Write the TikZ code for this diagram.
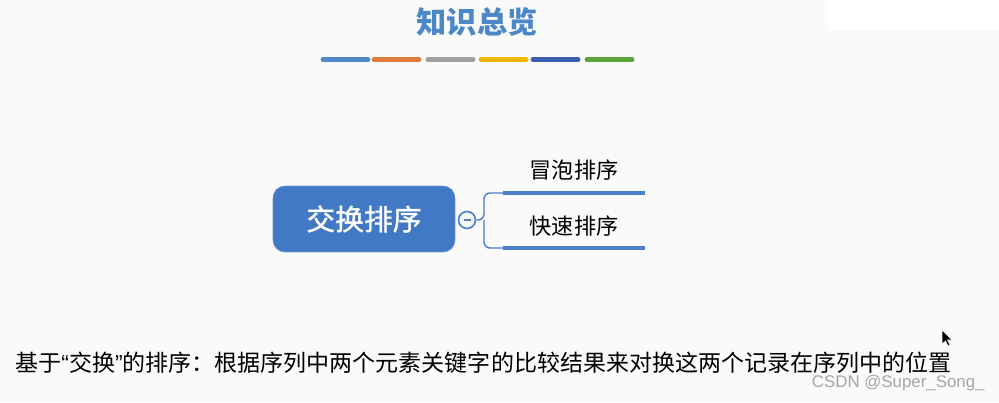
\documentclass[tikz,border=0pt]{standalone}
\usepackage{fontspec}
\setmainfont{Noto Sans CJK SC}
\newfontfamily\latinsans{Liberation Sans}
\newfontfamily\cjksemi[UprightFeatures={FakeBold=1.2}]{Noto Sans CJK SC}
\definecolor{titleblue}{HTML}{4A88C8}
\definecolor{boxblue}{HTML}{4279C4}
\definecolor{lineblue}{HTML}{4A7EC8}
\definecolor{barblue}{HTML}{4F8BC9}
\definecolor{barorange}{HTML}{E07B39}
\definecolor{bargray}{HTML}{A0A0A0}
\definecolor{baryellow}{HTML}{F5B800}
\definecolor{bardark}{HTML}{3A5DAE}
\definecolor{bargreen}{HTML}{5BA33B}
\definecolor{pagebg}{HTML}{FAFAFA}
\newcommand{\openq}{{\latinsans “}}
\newcommand{\closeq}{{\latinsans ”}}
\tikzset{
  mainbox/.style={fill=boxblue,draw=boxblue!80!white,rounded corners=0.24cm,minimum width=3.64cm,minimum height=1.32cm,text=white,font=\cjksemi\fontsize{16.4}{18}\selectfont},
  leaf/.style={font=\fontsize{12.6}{14}\selectfont,text=black},
  link/.style={draw=lineblue,line width=0.8pt,rounded corners=0.12cm},
  branch/.style={draw=lineblue,line width=2.8pt},
}
\begin{document}
\begin{tikzpicture}[x=0.02cm,y=-0.02cm]
    \useasboundingbox (0,0) rectangle (999,402);
    \fill[pagebg] (0,0) rectangle (999,402);
    \fill[white,rounded corners=0.06cm] (828,-5) rectangle (1004,30);
    % title and colour bars
    \node[font=\fontsize{17.2}{20}\selectfont\bfseries,text=titleblue] (title) at (477,22) {知识总览};
    \foreach \c/\xa in {barblue/322,barorange/373,bargray/427,baryellow/480,bardark/532,bargreen/586}{
            \draw[\c,line width=2.8pt,line cap=round] (\xa+1,59.5) -- (\xa+46,59.5);
        }
    % mind map
    \node[mainbox] (exch) at (364,219) {交换排序};
    \node[circle,draw=lineblue,fill=gray!8,line width=0.9pt,minimum size=0.34cm,inner sep=0pt] (fold) at (467,220) {};
    \draw[lineblue!60!gray,line width=1pt] ([xshift=-0.07cm]fold.center) -- ([xshift=0.07cm]fold.center);
    \coordinate (fork) at (484,220);
    \coordinate (b1) at (503,193);
    \coordinate (b1e) at (645,193);
    \coordinate (b2) at (503,248);
    \coordinate (b2e) at (645,248);
    \draw[link] (fold.east) -- (fork) |- (b1);
    \draw[link] (fork) |- (b2);
    \draw[branch] (b1) -- (b1e);
    \draw[branch] (b2) -- (b2e);
    \node[leaf] (bubble) at (574,170) {冒泡排序};
    \node[leaf] (quick) at (574,226) {快速排序};
    % note
    \node[font=\fontsize{13.1}{15}\selectfont,anchor=west,inner sep=0pt] (note) at (15,363) {基于\openq 交换\closeq 的排序：根据序列中两个元素关键字的比较结果来对换这两个记录在序列中的位置};
    \node[font=\latinsans\fontsize{9.6}{11}\selectfont,text=gray!70,anchor=east,inner sep=0pt] (mark) at (985,383) {CSDN @Super\_Song\_};
    % cursor
    \filldraw[fill=black,draw=white,line width=0.3pt] (942,330) -- (942,344) -- (945.5,341) -- (948,346) -- (950,345) -- (947.5,340) -- (952,340) -- cycle;
\end{tikzpicture}
\end{document}
